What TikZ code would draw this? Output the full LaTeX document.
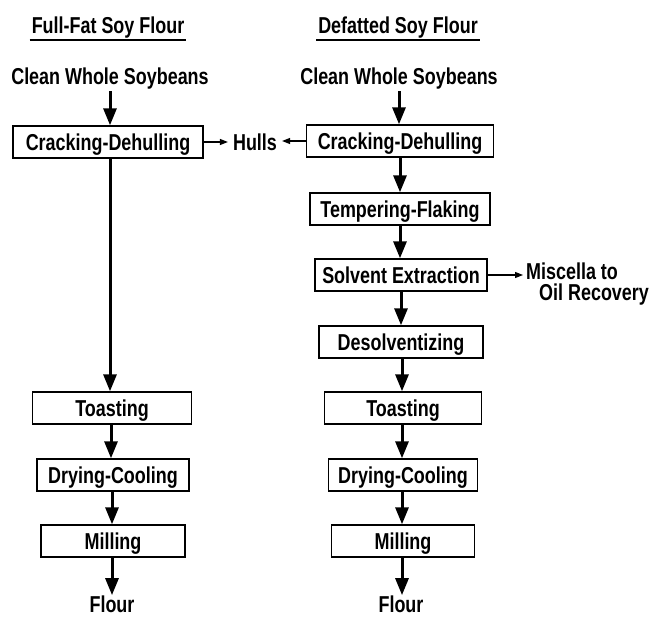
\documentclass[tikz,border=0pt]{standalone}
\usepackage{fontspec}
\newfontfamily\cf[FakeStretch=0.78]{Liberation Sans}
\usetikzlibrary{arrows.meta,calc}
\begin{document}
\begin{tikzpicture}[x=1pt,y=-1pt,
  every node/.style={font={\cf\bfseries\fontsize{23}{21}\selectfont}},
  txt/.style={inner sep=2pt},
  pbox/.style={draw,line width=1.4pt,minimum height=32pt,text height=16pt,text depth=0pt,inner sep=0pt},
  bigarr/.style={line width=3pt,-{Triangle[length=17pt,width=13pt]}},
  thinarr/.style={line width=1.1pt,-{Triangle[length=8pt,width=6pt]},shorten >=3pt},
  uline/.style={line width=1.4pt}]
\useasboundingbox (0,0) rectangle (650,616);
% titles
\node[txt,anchor=base] (t1) at (108,33) {Full-Fat Soy Flour};
\node[txt,anchor=base] (t2) at (398,33) {Defatted Soy Flour};
\draw[uline] ($(t1.base west)+(0,7)$) -- ($(t1.base east)+(0,7)$);
\draw[uline] ($(t2.base west)+(0,7)$) -- ($(t2.base east)+(0,7)$);
% inputs
\node[txt,anchor=base] (c1) at (110,84) {Clean Whole Soybeans};
\node[txt,anchor=base] (c2) at (399,84) {Clean Whole Soybeans};
% left column
\node[pbox,minimum width=190pt] (L1) at (108,142) {Cracking-Dehulling};
\node[pbox,minimum width=159pt] (L2) at (112,408) {Toasting};
\node[pbox,minimum width=152pt] (L3) at (113,475) {Drying-Cooling};
\node[pbox,minimum width=144pt] (L4) at (113,541) {Milling};
\node[inner sep=0pt,anchor=base] (F1) at (112,612) {Flour};
% right column
\node[pbox,minimum width=187pt] (R1) at (400,141) {Cracking-Dehulling};
\node[pbox,minimum width=180pt] (R2) at (400,209) {Tempering-Flaking};
\node[pbox,minimum width=172pt] (R3) at (401,275) {Solvent Extraction};
\node[pbox,minimum width=164pt] (R4) at (401,342) {Desolventizing};
\node[pbox,minimum width=157pt] (R5) at (403,408) {Toasting};
\node[pbox,minimum width=149pt] (R6) at (403,475) {Drying-Cooling};
\node[pbox,minimum width=143pt] (R7) at (403,541) {Milling};
\node[inner sep=0pt,anchor=base] (F2) at (401,612) {Flour};
% side outputs
\node[txt,anchor=base] (H) at (255,150) {Hulls};
\node[inner sep=0pt,anchor=north west,align=left] (M) at (526,263) {Miscella to\\\hspace*{13pt}Oil Recovery};
% left arrows
\draw[bigarr] (110,91) -- (L1.north -| 110,0);
\draw[bigarr] (L1.south -| 110,0) -- (L2.north -| 110,0);
\draw[bigarr] (L2.south -| 111,0) -- (L3.north -| 111,0);
\draw[bigarr] (L3.south -| 112,0) -- (L4.north -| 112,0);
\draw[bigarr] (L4.south -| 112,0) -- (F1.north -| 112,0);
% right arrows
\draw[bigarr] (399,91) -- (R1.north -| 399,0);
\draw[bigarr] (R1.south -| 400,0) -- (R2.north -| 400,0);
\draw[bigarr] (R2.south -| 400,0) -- (R3.north -| 400,0);
\draw[bigarr] (R3.south -| 401,0) -- (R4.north -| 401,0);
\draw[bigarr] (R4.south -| 402,0) -- (R5.north -| 402,0);
\draw[bigarr] (R5.south -| 402,0) -- (R6.north -| 402,0);
\draw[bigarr] (R6.south -| 402,0) -- (R7.north -| 402,0);
\draw[bigarr] (R7.south -| 402,0) -- (F2.north -| 402,0);
% side arrows
\draw[thinarr] (L1.east) -- (H.west |- L1.east);
\draw[thinarr] (R1.west) -- (H.east |- R1.west);
\draw[thinarr] (R3.east) -- (M.west |- R3.east);
\end{tikzpicture}
\end{document}
